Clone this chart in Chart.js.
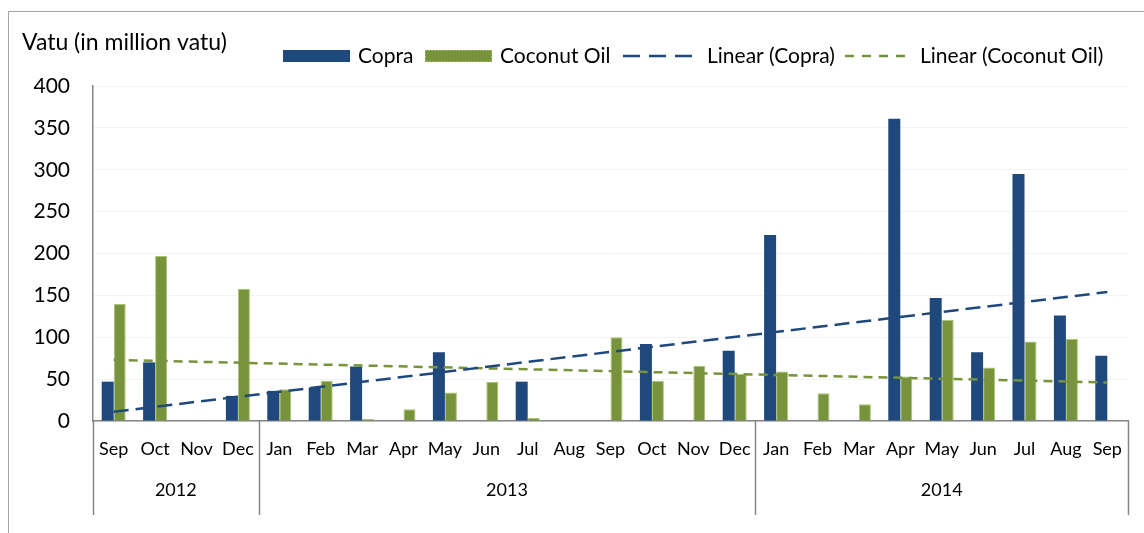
<!DOCTYPE html>
<html><head><meta charset="utf-8">
<script src="https://cdn.jsdelivr.net/npm/chart.js@4.4.0/dist/chart.umd.min.js"></script>
<style>
html,body{margin:0;padding:0;background:#fff;overflow:hidden}
#wrap{position:relative;width:1144px;height:533px}
#frame{position:absolute;left:8px;top:11px;width:1200px;height:600px;border-top:1px solid #a6a6a6;border-left:1px solid #a6a6a6;}
canvas{position:absolute;left:0;top:0}
</style></head><body>
<div id="wrap"><div id="frame"></div><canvas id="c" width="1144" height="533"></canvas></div>
<script>
// ---- data ----
const months = ['Sep','Oct','Nov','Dec','Jan','Feb','Mar','Apr','May','Jun','Jul','Aug','Sep','Oct','Nov','Dec','Jan','Feb','Mar','Apr','May','Jun','Jul','Aug','Sep'];
const years = ['2012','2013','2014'];
const yearMonthCounts = [4, 12, 9];
const copra =      [47, 70, 0, 30, 36, 40, 65, 0, 82, 0, 47, 0, 0, 92, 0, 84, 222, 0, 0, 361, 147, 82, 295, 126, 78];
const coconutOil = [140, 197, 1, 158, 38, 48, 2.5, 14, 34, 47, 3.5, 0.5, 100, 48, 66, 56, 59, 33, 20, 53, 121, 64, 95, 98, 0.5];
const copraTrendEnds = [11, 154];     // trend value at first and last month
const coconutTrendEnds = [73, 46];
const yMin = 0, yMax = 400, yStep = 50;
const yTitle = 'Vatu (in million vatu)';
const legendLabels = ['Copra', 'Coconut Oil', 'Linear (Copra)', 'Linear (Coconut Oil)'];

// ---- styles ----
const FONT = 'Lato, "Liberation Sans", sans-serif';
const BLUE = '#1F497D', GREEN = '#77933C', AXIS = '#868686';
Chart.defaults.font.family = FONT;
Chart.defaults.color = '#000';

const last = months.length - 1;
const endsToSeries = e => months.map((m, i) => i === 0 ? e[0] : (i === last ? e[1] : null));

const extras = {
  id: 'extras',
  afterDraw(chart) {
    const ctx = chart.ctx, x = chart.scales.x, area = chart.chartArea;
    ctx.save();
    // year group separators and labels
    ctx.strokeStyle = AXIS; ctx.lineWidth = 1.5;
    let start = 0;
    const bounds = [start];
    yearMonthCounts.forEach(c => { start += c; bounds.push(start); });
    bounds.forEach(b => {
      const px = Math.round(x.getPixelForValue(b - 0.5)) + 0.5;
      ctx.beginPath(); ctx.moveTo(px, area.bottom); ctx.lineTo(px, 515); ctx.stroke();
    });
    ctx.fillStyle = '#000'; ctx.font = '18px ' + FONT; ctx.textAlign = 'center'; ctx.textBaseline = 'middle';
    years.forEach((y, i) => {
      const a = x.getPixelForValue(bounds[i] - 0.5), b = x.getPixelForValue(bounds[i + 1] - 0.5);
      ctx.fillText(y, (a + b) / 2, 490);
    });
    // y title
    ctx.textAlign = 'left';
    ctx.font = '23px ' + FONT;
    ctx.fillText(yTitle, 22, 43);
    // legend
    const ly = 56;
    ctx.fillStyle = BLUE; ctx.fillRect(283, ly - 6, 67, 12);
    ctx.fillStyle = GREEN; ctx.fillRect(425, ly - 6, 67, 12);
    ctx.strokeStyle = '#a9c56f'; ctx.lineWidth = 1; ctx.setLineDash([1.5, 1.5]);
    ctx.strokeRect(425.5, ly - 5.5, 66, 11);
    ctx.lineWidth = 2.5;
    ctx.strokeStyle = BLUE; ctx.setLineDash([17, 9]);
    ctx.beginPath(); ctx.moveTo(623, ly); ctx.lineTo(701, ly); ctx.stroke();
    ctx.strokeStyle = GREEN; ctx.setLineDash([9, 8]);
    ctx.beginPath(); ctx.moveTo(845, ly); ctx.lineTo(910, ly); ctx.stroke();
    ctx.setLineDash([]);
    ctx.fillStyle = '#000';
    ctx.font = '21px ' + FONT;
    const lx = [358, 500, 707, 920];
    legendLabels.forEach((t, i) => ctx.fillText(t, lx[i], ly));
    ctx.restore();
  }
};

new Chart(document.getElementById('c'), {
  data: {
    labels: months,
    datasets: [
      { type: 'bar', label: 'Copra', data: copra, backgroundColor: BLUE, borderWidth: 0, order: 2 },
      { type: 'bar', label: 'Coconut Oil', data: coconutOil, backgroundColor: GREEN, borderColor: '#a9c56f', borderWidth: 1, order: 2 },
      { type: 'line', label: 'Linear (Copra)', data: endsToSeries(copraTrendEnds), spanGaps: true, borderColor: BLUE, borderWidth: 2.5, borderDash: [15, 7], pointRadius: 0, fill: false, order: 1 },
      { type: 'line', label: 'Linear (Coconut Oil)', data: endsToSeries(coconutTrendEnds), spanGaps: true, borderColor: GREEN, borderWidth: 2.5, borderDash: [9, 6], pointRadius: 0, fill: false, order: 1 }
    ]
  },
  options: {
    responsive: false,
    animation: false,
    events: [],
    layout: { padding: { top: 86, right: 16, left: 0, bottom: 0 } },
    datasets: { bar: { categoryPercentage: 0.58, barPercentage: 1.0 } },
    plugins: { legend: { display: false }, title: { display: false }, tooltip: { enabled: false } },
    scales: {
      x: {
        type: 'category',
        grid: { display: false, drawTicks: false },
        border: { color: AXIS, width: 1.5 },
        ticks: { font: { size: 18 }, padding: 17, maxRotation: 0, autoSkip: false },
        afterFit: s => { s.height = 112; }
      },
      y: {
        min: yMin, max: yMax,
        grid: { color: '#f3f3f3', drawTicks: false },
        border: { color: AXIS, width: 1.5 },
        ticks: { stepSize: yStep, font: { size: 21 }, padding: 23 },
        afterFit: s => { s.width = 93; }
      }
    }
  },
  plugins: [extras]
});
</script>
</body></html>
